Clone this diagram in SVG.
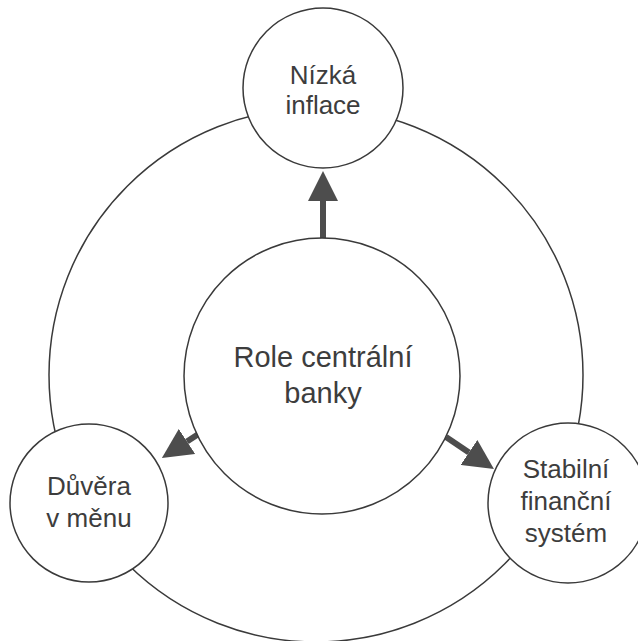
<svg xmlns="http://www.w3.org/2000/svg" width="638" height="641" viewBox="0 0 638 641">
<style>
.ring{fill:none;stroke:#3a3a3a;stroke-width:1.5}
.node{fill:#ffffff;stroke:#3a3a3a;stroke-width:1.5}
.lbl{font-family:"Liberation Sans",Arial,sans-serif;font-size:26px;fill:#3d3d3d;text-anchor:middle}
.big{font-size:29px}
.arrow{stroke:#4d4d4d;stroke-width:6;fill:none;marker-end:url(#head)}
</style>
<defs>
<marker id="head" markerUnits="userSpaceOnUse" markerWidth="30" markerHeight="30" refX="0" refY="15" orient="auto" viewBox="0 0 30 30">
<path d="M0,0 L30,15 L0,30 z" fill="#4d4d4d"/>
</marker>
</defs>
<rect width="638" height="641" fill="#ffffff"/>
<circle class="ring" cx="316" cy="375" r="267"/>
<g id="connectors">
<line class="arrow" x1="323" y1="239" x2="323" y2="201"/>
<line class="arrow" x1="200" y1="433" x2="187" y2="441.5"/>
<line class="arrow" x1="446" y1="437" x2="469" y2="452.4"/>
</g>
<g id="center">
<circle class="node" cx="322" cy="376" r="138"/>
<text class="lbl big" x="323" y="367">Role centrální</text>
<text class="lbl big" x="323" y="403">banky</text>
</g>
<g id="top">
<circle class="node" cx="323" cy="88" r="80"/>
<text class="lbl" x="323" y="84">Nízká</text>
<text class="lbl" x="323" y="114">inflace</text>
</g>
<g id="left">
<circle class="node" cx="89" cy="503" r="79"/>
<text class="lbl" x="89" y="495">Důvěra</text>
<text class="lbl" x="89" y="527">v měnu</text>
</g>
<g id="right">
<circle class="node" cx="568" cy="503" r="80"/>
<text class="lbl" x="566" y="478">Stabilní</text>
<text class="lbl" x="566" y="510">finanční</text>
<text class="lbl" x="566" y="542">systém</text>
</g>
</svg>
